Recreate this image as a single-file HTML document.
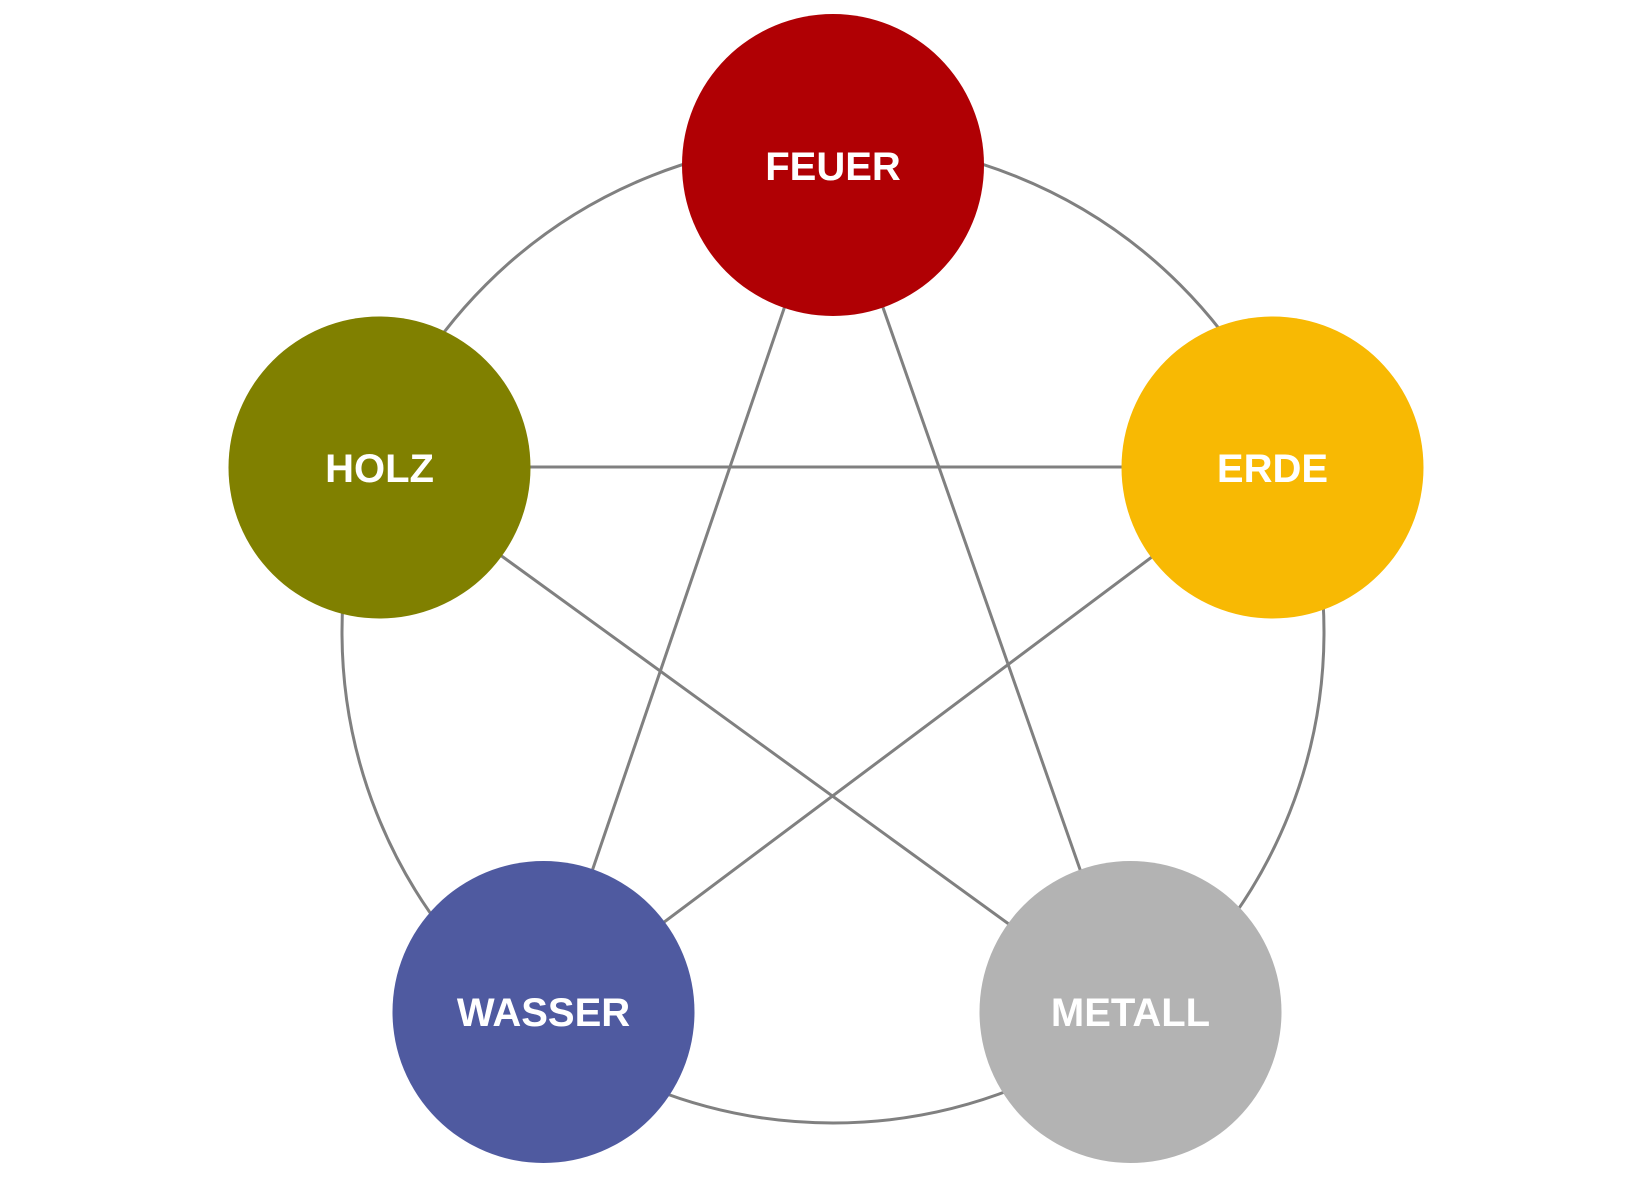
<!DOCTYPE html>
<html>
<head>
<meta charset="utf-8">
<style>
  html, body { margin: 0; padding: 0; background: #ffffff; }
  body { width: 1639px; height: 1179px; overflow: hidden; }
  svg { display: block; }
  text { font-family: "Liberation Sans", "DejaVu Sans", sans-serif; font-weight: bold; font-size: 40px; fill: #ffffff; }
</style>
</head>
<body>
<svg width="1639" height="1179" viewBox="0 0 1639 1179" xmlns="http://www.w3.org/2000/svg">
  <rect x="0" y="0" width="1639" height="1179" fill="#ffffff"/>
  <!-- outer circle -->
  <circle cx="833" cy="632" r="491" fill="none" stroke="#808080" stroke-width="3"/>
  <!-- star lines -->
  <g stroke="#808080" stroke-width="3" fill="none">
    <line x1="833" y1="165" x2="544" y2="1012"/>
    <line x1="833" y1="165" x2="1130" y2="1012"/>
    <line x1="379" y1="467" x2="1272" y2="467"/>
    <line x1="379" y1="467" x2="1130" y2="1012"/>
    <line x1="1272" y1="467" x2="544" y2="1012"/>
  </g>
  <!-- nodes -->
  <circle cx="833" cy="165" r="151" fill="#B00004"/>
  <circle cx="379.5" cy="467.5" r="151" fill="#808000"/>
  <circle cx="1272.5" cy="467.5" r="151" fill="#F8B903"/>
  <circle cx="543.5" cy="1012" r="151" fill="#4F5AA0"/>
  <circle cx="1130.5" cy="1012" r="151" fill="#B3B3B3"/>
  <!-- labels -->
  <text x="833" y="180" text-anchor="middle">FEUER</text>
  <text x="379.5" y="482" text-anchor="middle">HOLZ</text>
  <text x="1272.5" y="482" text-anchor="middle">ERDE</text>
  <text x="543.5" y="1026" text-anchor="middle">WASSER</text>
  <text x="1130.5" y="1026" text-anchor="middle">METALL</text>
</svg>
</body>
</html>
